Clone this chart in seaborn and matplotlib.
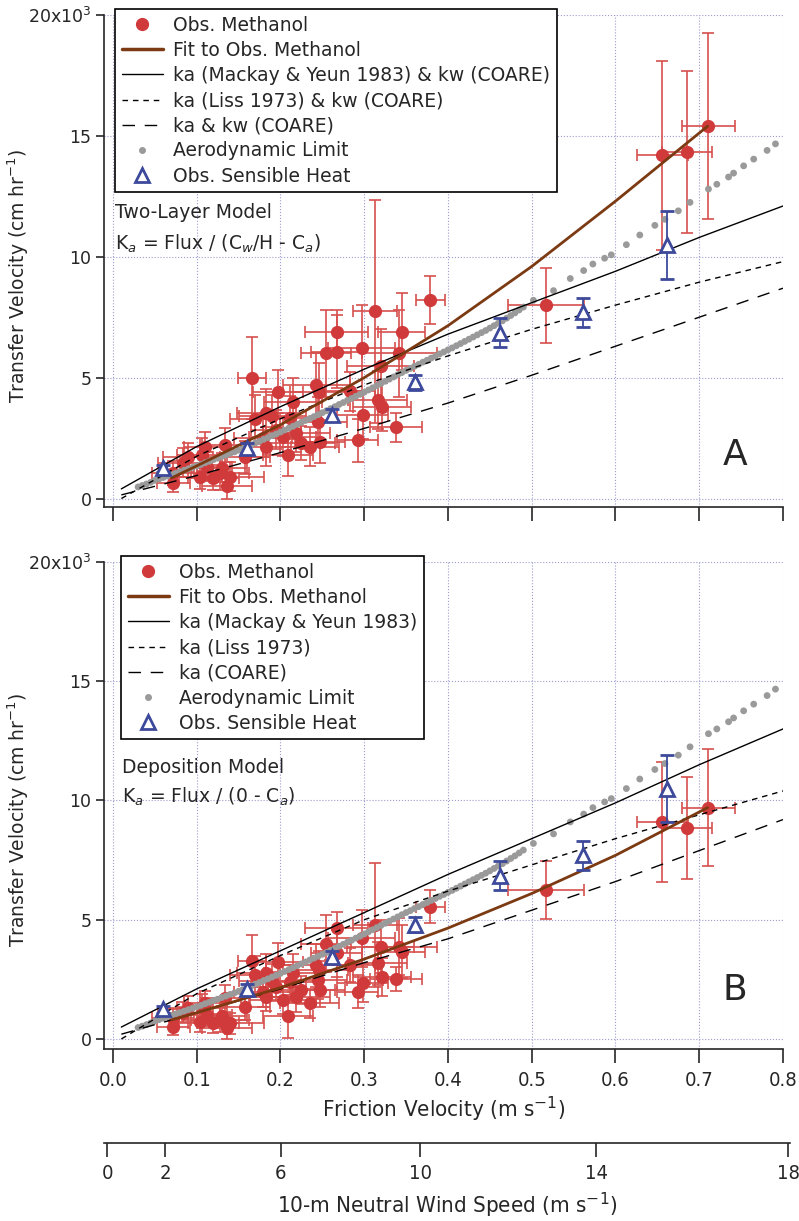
import matplotlib
matplotlib.use("Agg")
import matplotlib.pyplot as plt
from matplotlib.lines import Line2D
import seaborn as sns

# ---- data (transfer velocities in 10^3 cm/hr) ----
u_obs = [0.072, 0.072, 0.084, 0.09, 0.104, 0.106, 0.11, 0.112, 0.12, 0.128,
         0.13, 0.134, 0.136, 0.14, 0.158, 0.166, 0.17, 0.179, 0.183, 0.183,
         0.19, 0.195, 0.197, 0.203, 0.209, 0.211, 0.215, 0.219, 0.225, 0.235,
         0.243, 0.246, 0.245, 0.247, 0.254, 0.267, 0.267, 0.283, 0.292, 0.297,
         0.298, 0.313, 0.316, 0.32, 0.321, 0.338, 0.342, 0.345, 0.379, 0.517,
         0.656, 0.685, 0.711]
u_obs_err = [0.02, 0.025, 0.03, 0.03, 0.025, 0.03, 0.025, 0.03, 0.03, 0.035,
             0.03, 0.03, 0.03, 0.04, 0.03, 0.017, 0.03, 0.035, 0.035, 0.03,
             0.04, 0.03, 0.03, 0.04, 0.03, 0.035, 0.035, 0.04, 0.04, 0.035,
             0.04, 0.035, 0.035, 0.03, 0.03, 0.038, 0.03, 0.03, 0.025, 0.04,
             0.03, 0.026, 0.035, 0.04, 0.035, 0.031, 0.045, 0.028, 0.017, 0.045,
             0.03, 0.03, 0.032]
ka_twolayer = [0.66, 1.07, 1.48, 1.7, 0.9, 1.82, 2.15, 1.32, 0.87, 1.07,
               1.28, 2.23, 0.5, 0.9, 1.7, 5.0, 3.27, 2.5, 3.55, 2.15,
               3.4, 2.85, 4.42, 2.56, 1.82, 3.35, 4.0, 2.73, 2.3, 2.15,
               4.7, 4.4, 3.18, 2.35, 6.0, 6.9, 6.08, 4.43, 2.41, 6.22,
               3.46, 7.74, 4.06, 5.5, 3.79, 2.95, 6.0, 6.9, 8.2, 8.0,
               14.2, 14.35, 15.4]
ka_twolayer_err = [0.4, 0.5, 0.6, 0.6, 0.5, 0.7, 0.6, 0.6, 0.5, 0.7,
                   0.6, 0.7, 0.5, 0.6, 0.7, 1.7, 1.0, 0.8, 1.0, 0.8,
                   0.9, 0.8, 0.9, 0.8, 0.9, 0.9, 1.0, 0.8, 0.7, 0.8,
                   1.3, 1.2, 1.0, 0.9, 1.8, 0.9, 1.5, 0.8, 0.9, 1.8,
                   1.0, 4.6, 1.2, 1.5, 1.0, 0.6, 1.8, 1.6, 1.0, 1.55,
                   3.9, 3.35, 3.85]
ka_deposition = [0.52, 0.87, 1.1, 1.29, 0.7, 1.35, 1.5, 1.0, 0.65, 0.8,
                 0.95, 1.7, 0.45, 0.66, 1.35, 3.27, 2.68, 1.95, 2.75, 1.77,
                 2.45, 2.19, 3.24, 1.64, 0.95, 2.4, 2.75, 1.75, 2.05, 1.5,
                 3.1, 2.9, 2.47, 2.05, 4.0, 4.64, 3.59, 3.1, 1.98, 4.22,
                 2.33, 4.78, 3.17, 3.87, 2.6, 2.5, 3.87, 3.66, 5.55, 6.25,
                 9.1, 8.85, 9.7]
ka_deposition_err = [0.35, 0.4, 0.45, 0.5, 0.4, 0.55, 0.5, 0.45, 0.4, 0.5,
                     0.45, 0.55, 0.45, 0.45, 0.55, 1.1, 0.8, 0.6, 0.8, 0.6,
                     0.7, 0.6, 0.8, 0.6, 0.9, 0.7, 0.8, 0.6, 0.6, 0.6,
                     0.9, 0.8, 0.8, 0.7, 1.2, 0.7, 1.0, 0.7, 0.7, 1.2,
                     0.8, 2.6, 0.9, 1.1, 0.8, 0.5, 1.2, 1.1, 0.7, 1.2,
                     2.5, 2.15, 2.45]

u_fit = [0.07, 0.1, 0.2, 0.3, 0.4, 0.5, 0.6, 0.71]
fit_twolayer = [0.85, 1.35, 3.05, 5.0, 7.15, 9.6, 12.3, 15.4]
fit_deposition = [0.8, 1.1, 2.15, 3.35, 4.65, 6.1, 7.7, 9.7]

u_model = [0.01, 0.1, 0.2, 0.3, 0.4, 0.5, 0.6, 0.7, 0.8]
mackay_top = [0.4, 2.15, 3.8, 5.35, 6.8, 8.1, 9.4, 10.8, 12.1]
liss_top = [0.0, 1.75, 3.3, 4.7, 5.9, 7.0, 8.0, 8.95, 9.8]
coare_top = [0.15, 0.95, 1.9, 2.9, 3.95, 5.1, 6.3, 7.5, 8.7]
mackay_bot = [0.5, 2.1, 3.7, 5.3, 6.9, 8.4, 9.9, 11.5, 13.0]
liss_bot = [0.0, 1.9, 3.5, 5.0, 6.2, 7.3, 8.4, 9.4, 10.4]
coare_bot = [0.2, 1.1, 2.1, 3.2, 4.2, 5.4, 6.6, 7.9, 9.2]

u_aero = [0.03, 0.04, 0.05, 0.06, 0.07, 0.08, 0.09, 0.10, 0.11, 0.12,
          0.13, 0.14, 0.15, 0.16, 0.17, 0.18, 0.19, 0.20, 0.21, 0.22,
          0.23, 0.24, 0.25, 0.26, 0.27, 0.28, 0.29, 0.30, 0.31, 0.32,
          0.33, 0.34, 0.35, 0.36, 0.37, 0.38, 0.39, 0.40, 0.41, 0.42,
          0.43, 0.44, 0.45, 0.46, 0.47, 0.48, 0.49, 0.502, 0.526, 0.546,
          0.562, 0.573, 0.587, 0.595, 0.613, 0.629, 0.647, 0.659, 0.675, 0.689,
          0.711, 0.721, 0.735, 0.741, 0.753, 0.765, 0.781, 0.791]
ka_aero = [0.48, 0.6, 0.75, 0.87, 0.99, 1.11, 1.23, 1.35, 1.48, 1.61,
           1.74, 1.87, 2.0, 2.15, 2.3, 2.45, 2.6, 2.75, 2.91, 3.07,
           3.23, 3.39, 3.55, 3.72, 3.89, 4.06, 4.23, 4.4, 4.58, 4.76,
           4.94, 5.12, 5.3, 5.47, 5.64, 5.81, 5.98, 6.15, 6.32, 6.5,
           6.68, 6.86, 7.05, 7.25, 7.46, 7.68, 7.92, 8.2, 8.6, 9.1,
           9.43, 9.7, 9.94, 10.08, 10.5, 10.9, 11.3, 11.55, 11.9, 12.25,
           12.8, 13.0, 13.3, 13.46, 13.76, 14.04, 14.4, 14.67]
# extra dense hours at low friction velocity
u_aero_dense = [0.035, 0.045, 0.055, 0.065, 0.075, 0.085, 0.095, 0.105,
                0.115, 0.125, 0.135, 0.145, 0.155, 0.165, 0.175, 0.185,
                0.195, 0.205, 0.215, 0.225, 0.235, 0.245, 0.255, 0.265,
                0.275, 0.285, 0.295, 0.305, 0.315, 0.325, 0.335, 0.345,
                0.355, 0.365, 0.375, 0.385, 0.395, 0.405, 0.415, 0.425,
                0.435, 0.445, 0.455, 0.465, 0.475, 0.485]
ka_aero_dense = [0.54, 0.67, 0.81, 0.93, 1.05, 1.17, 1.29, 1.41,
                 1.54, 1.67, 1.8, 1.93, 2.07, 2.22, 2.37, 2.52,
                 2.67, 2.83, 2.99, 3.15, 3.31, 3.47, 3.63, 3.8,
                 3.97, 4.14, 4.31, 4.49, 4.67, 4.85, 5.03, 5.21,
                 5.38, 5.55, 5.72, 5.89, 6.06, 6.23, 6.41, 6.59,
                 6.77, 6.95, 7.15, 7.35, 7.57, 7.8]

u_heat = [0.06, 0.16, 0.262, 0.361, 0.462, 0.561, 0.661]
ka_heat = [1.25, 2.1, 3.45, 4.8, 6.85, 7.7, 10.5]
ka_heat_err = [0.15, 0.2, 0.25, 0.3, 0.6, 0.6, 1.4]

wind_labels = ["0", "2", "6", "10", "14", "18"]
wind_at_ustar = [-0.007, 0.062, 0.2, 0.367, 0.577, 0.806]

y_ticks = [0, 5, 10, 15, 20]
y_ticklabels = ["0", "5", "10", "15", "20x10$^3$"]
x_ticks = [0.0, 0.1, 0.2, 0.3, 0.4, 0.5, 0.6, 0.7, 0.8]

# ---- style ----
sns.set_style("ticks")
plt.rcParams["font.family"] = ["DejaVu Sans"]
plt.rcParams["mathtext.fontset"] = "dejavusans"
narrow = ["DejaVu Sans"]

RED = "#d03a3b"
BROWN = "#7b3a12"
BLUE = "#3d4a9c"
GREY = "#9a9a9a"
GRID = "#9c9cd0"

W, H = 799, 1221
fig = plt.figure(figsize=(W / 100, H / 100), dpi=100)
ax_top = fig.add_axes([104 / W, 1 - 507 / H, 679 / W, 492 / H])
ax_bot = fig.add_axes([104 / W, 1 - 1049 / H, 679 / W, 487 / H])


def draw_panel(ax, ka_obs, ka_obs_err, fit, mackay, liss, coare, ymin):
    ax.errorbar(u_obs, ka_obs, xerr=u_obs_err, yerr=ka_obs_err, fmt="o",
                color=RED, ecolor="#d6504e", ms=8.5, elinewidth=1.2,
                capsize=4, capthick=1.2, zorder=3)
    sns.scatterplot(x=u_aero + u_aero_dense, y=ka_aero + ka_aero_dense,
                    ax=ax, color=GREY, s=24, edgecolor="none", zorder=4)
    sns.lineplot(x=u_model, y=mackay, ax=ax, color="black", lw=1.0,
                 sort=False, estimator=None, zorder=5)
    sns.lineplot(x=u_model, y=liss, ax=ax, color="black", lw=1.0,
                 sort=False, estimator=None, zorder=5,
                 linestyle=(0, (4, 3.5)))
    sns.lineplot(x=u_model, y=coare, ax=ax, color="black", lw=1.0,
                 sort=False, estimator=None, zorder=5,
                 linestyle=(0, (9, 7)))
    sns.lineplot(x=u_fit, y=fit, ax=ax, color=BROWN, lw=2.0,
                 sort=False, estimator=None, zorder=6)
    ax.errorbar(u_heat, ka_heat, yerr=ka_heat_err, fmt="^", mfc="white",
                mec=BLUE, mew=2.0, ms=10, color=BLUE, ecolor=BLUE,
                elinewidth=1.3, capsize=5, capthick=1.3, zorder=7)

    ax.set_xlim(-0.0107, 0.8)
    ax.set_ylim(ymin, 20)
    ax.set_xticks(x_ticks)
    ax.set_yticks(y_ticks)
    ax.set_yticklabels(y_ticklabels, fontsize=12.5)
    ax.grid(True, color=GRID, linestyle=":", linewidth=0.8)
    ax.set_axisbelow(True)
    for s in ["top", "right"]:
        ax.spines[s].set_visible(False)
    for s in ["left", "bottom"]:
        ax.spines[s].set_linewidth(1.2)
    ax.tick_params(axis="y", direction="out", length=6, width=1.2, pad=3)
    ax.tick_params(axis="x", direction="out", length=10, width=1.2)
    ax.set_ylabel("Transfer Velocity (cm hr$^{-1}$)", fontsize=13.5)
    ax.yaxis.set_label_coords(-0.108, 0.47)
    ax.set_xlabel("")


draw_panel(ax_top, ka_twolayer, ka_twolayer_err, fit_twolayer,
           mackay_top, liss_top, coare_top, -0.35)
draw_panel(ax_bot, ka_deposition, ka_deposition_err, fit_deposition,
           mackay_bot, liss_bot, coare_bot, -0.42)

ax_top.set_xticklabels([])
ax_bot.set_xticklabels(["%.1f" % t for t in x_ticks], fontsize=14.5,
                       family=narrow, stretch="condensed")
ax_bot.tick_params(axis="x", pad=6)
ax_bot.set_xlabel("Friction Velocity (m s$^{-1}$)", fontsize=16,
                  family=narrow, stretch="condensed", labelpad=3)


def legend_handles(names):
    return [
        Line2D([], [], ls="none", marker="o", color=RED, ms=8.5, label=names[0]),
        Line2D([], [], color=BROWN, lw=2.5, label=names[1]),
        Line2D([], [], color="black", lw=1.0, label=names[2]),
        Line2D([], [], color="black", lw=1.0, ls=(0, (4, 3.5)), label=names[3]),
        Line2D([], [], color="black", lw=1.0, ls=(0, (9, 7)), label=names[4]),
        Line2D([], [], ls="none", marker="o", color=GREY, ms=4, label=names[5]),
        Line2D([], [], ls="none", marker="^", mfc="white", mec=BLUE, mew=2,
               ms=10, label=names[6]),
    ]


top_names = ["Obs. Methanol", "Fit to Obs. Methanol",
             "ka (Mackay & Yeun 1983) & kw (COARE)",
             "ka (Liss 1973) & kw (COARE)", "ka & kw (COARE)",
             "Aerodynamic Limit", "Obs. Sensible Heat"]
bot_names = ["Obs. Methanol", "Fit to Obs. Methanol",
             "ka (Mackay & Yeun 1983)", "ka (Liss 1973)", "ka (COARE)",
             "Aerodynamic Limit", "Obs. Sensible Heat"]

for ax, names, (lx, ly) in [(ax_top, top_names, (115, 9)),
                            (ax_bot, bot_names, (121, 556))]:
    leg = ax.legend(handles=legend_handles(names), loc="upper left",
                    bbox_to_anchor=(lx / W, 1 - ly / H),
                    bbox_transform=fig.transFigure, borderaxespad=0,
                    fontsize=13.5, frameon=True, fancybox=False,
                    edgecolor="black", framealpha=1, handlelength=2.2,
                    handletextpad=0.55, labelspacing=0.33, borderpad=0.35)
    leg.get_frame().set_linewidth(1.2)
    leg.set_zorder(10)

ax_top.text(0.016, 0.598, "Two-Layer Model", transform=ax_top.transAxes,
            fontsize=13.5, va="center")
ax_top.text(0.016, 0.535, "K$_a$ = Flux / (C$_w$/H - C$_a$)",
            transform=ax_top.transAxes, fontsize=13.5, va="center")
ax_bot.text(0.026, 0.578, "Deposition Model", transform=ax_bot.transAxes,
            fontsize=13.5, va="center")
ax_bot.text(0.026, 0.518, "K$_a$ = Flux / (0 - C$_a$)",
            transform=ax_bot.transAxes, fontsize=13.5, va="center")
ax_top.text(0.929, 0.106, "A", transform=ax_top.transAxes, fontsize=26,
            ha="center", va="center")
ax_bot.text(0.929, 0.121, "B", transform=ax_bot.transAxes, fontsize=26,
            ha="center", va="center")

# second axis: 10-m neutral wind speed
ax_wind = fig.add_axes([104 / W, 1 - 1143 / H, 686 / W, 0.0001])
ax_wind.patch.set_visible(False)
for s in ["top", "right", "left"]:
    ax_wind.spines[s].set_visible(False)
ax_wind.spines["bottom"].set_linewidth(1.2)
ax_wind.set_yticks([])
ax_wind.set_xlim(-0.0107, 0.808)
ax_wind.set_xticks(wind_at_ustar)
ax_wind.set_xticklabels(wind_labels, fontsize=14.5, family=narrow,
                        stretch="condensed")
ax_wind.tick_params(axis="x", direction="out", length=10, width=1.2, pad=5)
ax_wind.set_xlabel("10-m Neutral Wind Speed (m s$^{-1}$)", fontsize=16,
                   family=narrow, stretch="condensed", labelpad=6)

fig.savefig("out.png", dpi=100)
plt.close(fig)
